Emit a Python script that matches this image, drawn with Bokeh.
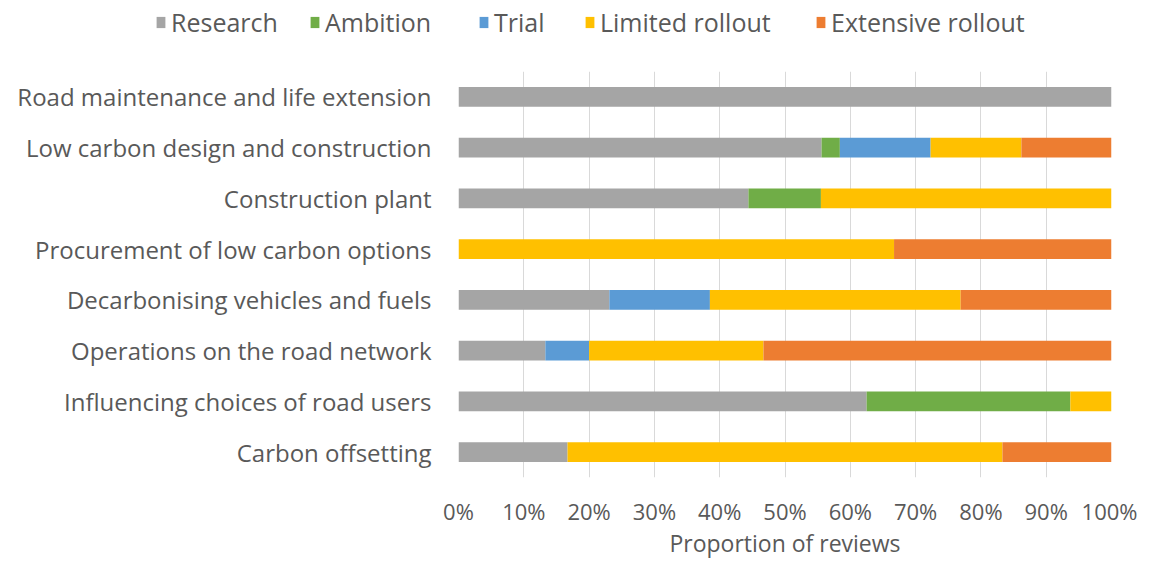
from bokeh.plotting import figure
from bokeh.layouts import column
from bokeh.models import FactorRange, Range1d, FixedTicker, Legend, LegendItem, CustomJSTickFormatter
from bokeh.embed import file_html
from bokeh.resources import INLINE

categories = [
    "Road maintenance and life extension",
    "Low carbon design and construction",
    "Construction plant",
    "Procurement of low carbon options",
    "Decarbonising vehicles and fuels",
    "Operations on the road network",
    "Influencing choices of road users",
    "Carbon offsetting",
]
series = ["Research", "Ambition", "Trial", "Limited rollout", "Extensive rollout"]
research = [100.0, 55.6, 44.4, 0.0, 23.1, 13.3, 62.5, 16.7]
ambition = [0.0, 2.8, 11.1, 0.0, 0.0, 0.0, 31.2, 0.0]
trial = [0.0, 13.9, 0.0, 0.0, 15.4, 6.7, 0.0, 0.0]
limited = [0.0, 13.9, 44.5, 66.7, 38.4, 26.7, 6.3, 66.6]
extensive = [0.0, 13.8, 0.0, 33.3, 23.1, 53.3, 0.0, 16.7]
colors = ["#A5A5A5", "#70AD47", "#5B9BD5", "#FFC000", "#ED7D31"]
tick_values = [0, 10, 20, 30, 40, 50, 60, 70, 80, 90, 100]

FONT = "Open Sans"
TXT = "#595959"

data = {"cat": categories, "Research": research, "Ambition": ambition, "Trial": trial,
        "Limited rollout": limited, "Extensive rollout": extensive}

W = 1137
TOP_H = 71
MAIN_H = 561 - TOP_H

# ---- legend strip (separate figure above the chart) ----
lp = figure(width=W, height=TOP_H, output_backend="svg", toolbar_location=None,
            x_range=Range1d(0, 100), y_range=FactorRange(factors=categories[::-1]),
            x_axis_location=None, y_axis_location=None,
            min_border_left=0, min_border_right=0, min_border_top=0, min_border_bottom=0)
lp.outline_line_color = None
lp.xgrid.grid_line_color = None
lp.ygrid.grid_line_color = None
try:
    lp.frame_align = False
except Exception:
    pass

legend_renderers = lp.hbar_stack(series, y="cat", height=0.39, color=colors, source=data,
                                  line_color=None, visible=False)
legend_x = [155, 309, 478, 584, 815]
for name, r, lx in zip(series, legend_renderers, legend_x):
    lg = Legend(items=[LegendItem(label=name, renderers=[r])], location=(lx, 32),
                orientation="horizontal", glyph_width=11, glyph_height=14,
                label_standoff=5, padding=0, margin=0, spacing=0,
                border_line_color=None, background_fill_alpha=0,
                inactive_fill_alpha=0,
                label_text_font=FONT, label_text_font_size="25px", label_text_color=TXT)
    lp.add_layout(lg, "center")

# ---- main chart ----
p = figure(width=W, height=MAIN_H, output_backend="svg", toolbar_location=None,
           y_range=FactorRange(factors=categories[::-1]), x_range=Range1d(0, 100),
           min_border_left=458, min_border_right=W - 1111, min_border_top=0,
           min_border_bottom=MAIN_H - (480 - TOP_H))
p.outline_line_color = None
try:
    p.frame_align = False
except Exception:
    pass

p.hbar_stack(series, y="cat", height=0.39, color=colors, source=data, line_color=None)

p.xaxis.ticker = FixedTicker(ticks=tick_values)
p.xaxis.formatter = CustomJSTickFormatter(code="return tick + '%';")
p.xaxis.axis_line_color = None
p.xaxis.major_tick_line_color = None
p.xaxis.minor_tick_line_color = None
p.xaxis.major_tick_out = 0
p.xaxis.major_tick_in = 0
p.xaxis.minor_tick_out = 0
p.xaxis.major_label_text_font = FONT
p.xaxis.major_label_text_font_size = "22px"
p.xaxis.major_label_text_color = TXT
p.xaxis.major_label_standoff = 18
p.xaxis.axis_label = "Proportion of reviews"
p.xaxis.axis_label_text_font = FONT
p.xaxis.axis_label_text_font_size = "23px"
p.xaxis.axis_label_text_font_style = "normal"
p.xaxis.axis_label_text_color = TXT
p.xaxis.axis_label_standoff = -2

p.yaxis.axis_line_color = None
p.yaxis.major_tick_line_color = None
p.yaxis.minor_tick_line_color = None
p.yaxis.major_label_text_font = FONT
p.yaxis.major_label_text_font_size = "24px"
p.yaxis.major_label_text_color = TXT
p.yaxis.major_label_standoff = 21

p.xgrid.grid_line_color = "#D9D9D9"
p.xgrid.grid_line_width = 1
p.ygrid.grid_line_color = None

layout = column(lp, p, spacing=0)
open("out.html", "w").write(file_html(layout, INLINE))
